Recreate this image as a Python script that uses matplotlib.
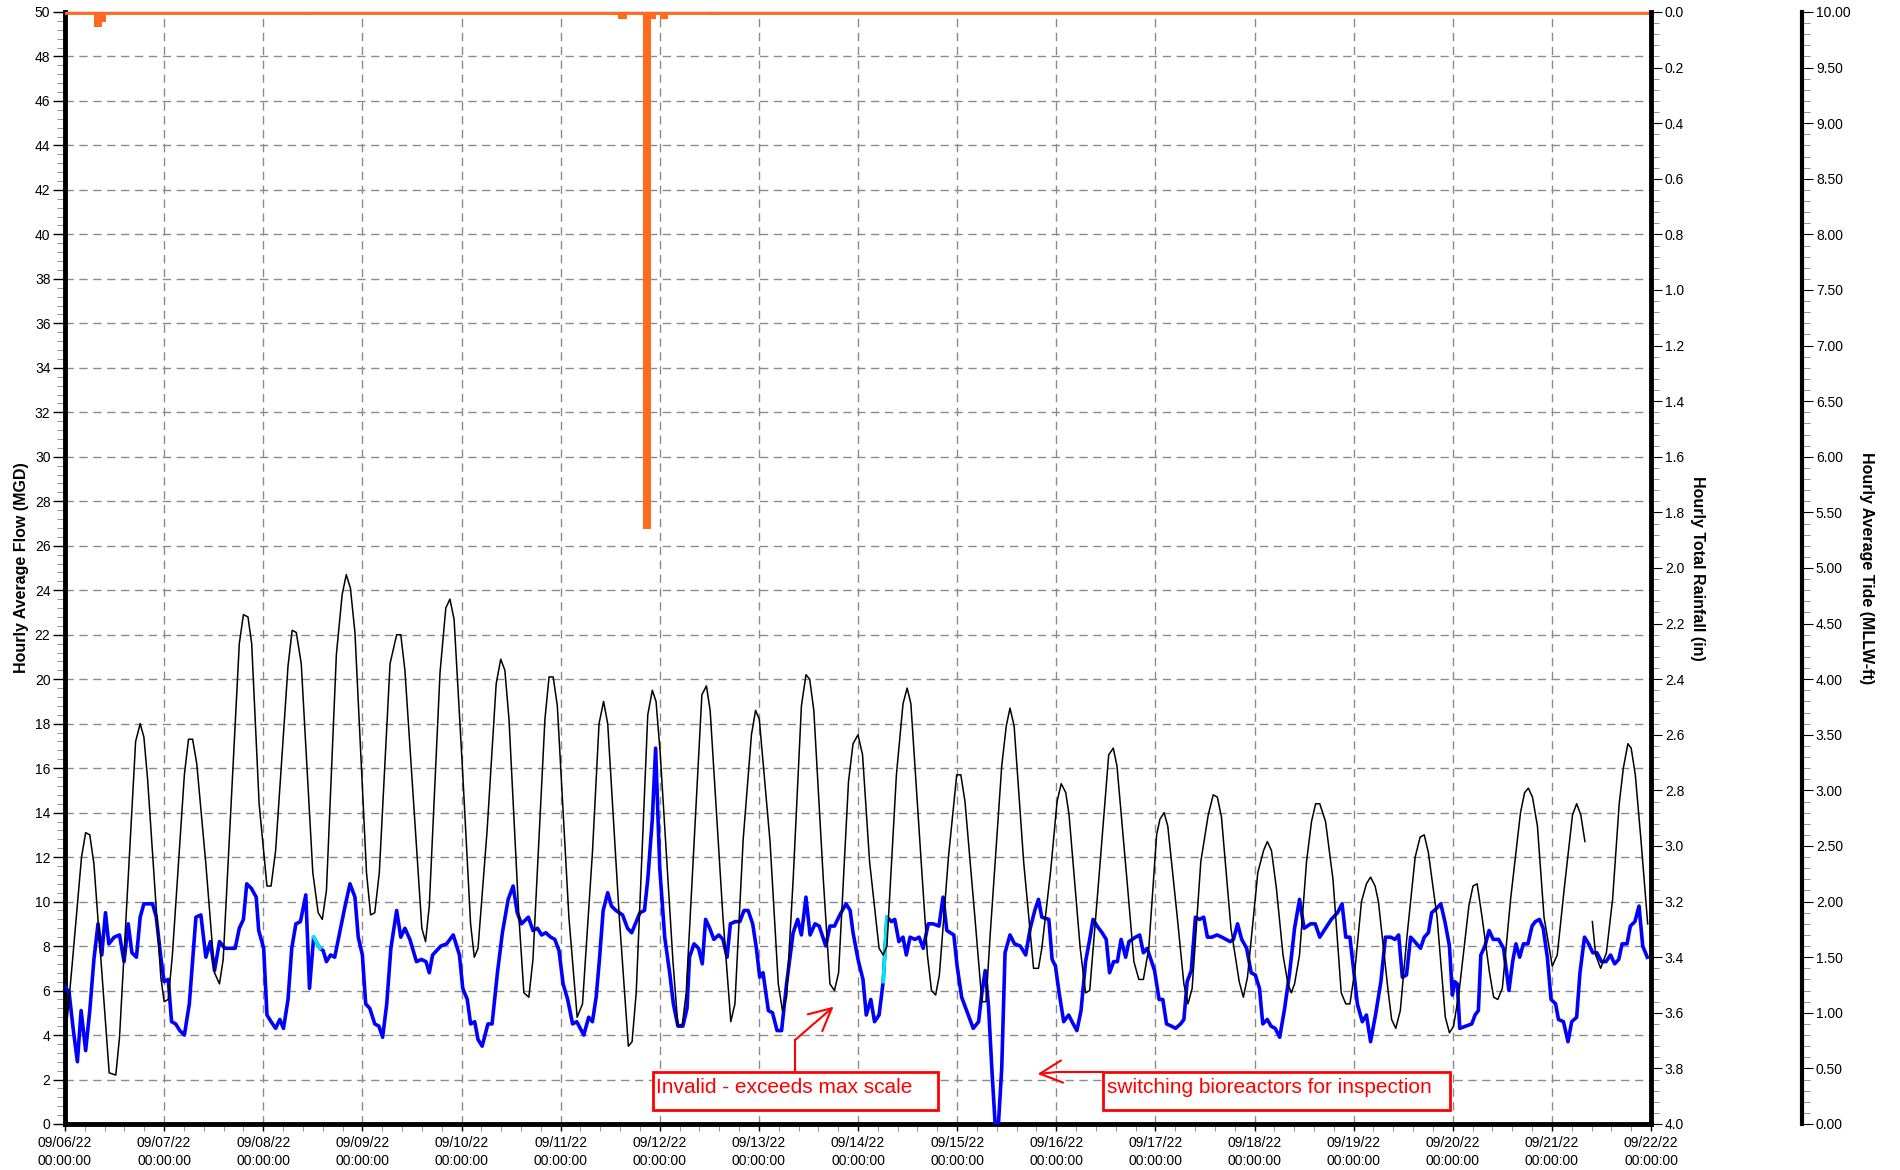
import numpy as np
import matplotlib.pyplot as plt
import matplotlib.dates as mdates
from matplotlib.patches import Rectangle
from matplotlib.ticker import MultipleLocator, FormatStrFormatter

plt.rcParams['font.family'] = ['Liberation Sans', 'DejaVu Sans']

# hours since 09/06/22 00:00
flow_hours = [
    0, 1, 1.9, 3, 3.9, 5, 6, 7, 8, 8.9, 9.8, 10.6, 11.9, 13.2, 14.3, 15.3, 16.2, 17.3, 18.2, 19.1,
    20.2, 21.2, 22.1, 23.2, 24, 25, 25.8, 26.8, 27.8, 28.9, 30.1, 31.7, 32.9, 34.1, 35.2, 36.2, 37.4,
    38.7, 40, 41.2, 42.2, 43.2, 44, 45.1, 46.3, 46.9, 48.1, 48.9, 49.9, 51, 52, 52.9, 54, 54.9, 55.9,
    57, 58.3, 59.2, 60.2, 61.7, 62.5, 63.3, 64.3, 65.3, 66.5, 67.7, 69, 70.2, 71, 72, 72.8, 73.8, 75,
    76, 76.9, 77.9, 78.9, 80.3, 81.3, 82.3, 83.5, 85.1, 86.3, 87.4, 88.2, 89, 90, 91, 92.4, 94, 95.5,
    96.3, 97.4, 98.2, 99.2, 100, 101, 102.4, 103.4, 104.7, 105.9, 107.3, 108.5, 109.5, 110.5, 112.2,
    113.3, 114.4, 115.4, 116.4, 117.6, 118.6, 119.6, 120.6, 121.7, 122.9, 123.9, 125.6, 126.8, 127.7,
    128.6, 129.4, 130.3, 131.4, 132.3, 133.4, 135, 136.2, 137.2, 138.1, 139.2, 140.3, 141.1, 142.2,
    143, 144, 145.2, 146.4, 147.3, 148.4, 149.6, 150.6, 151.2, 152.3, 153.4, 154.3, 155.1, 156.1,
    157.1, 158.3, 159.3, 160.3, 161.1, 162.3, 163.4, 164.4, 165.4, 166.5, 167.4, 168.2, 169, 170.3,
    171.3, 172.4, 173.5, 174.7, 176.3, 177.4, 178.3, 179.4, 180.4, 181.6, 182.6, 184.2, 185.2, 186.3,
    187.6, 189.1, 190.1, 190.8, 192, 193.2, 194, 195.1, 196, 197.1, 198.1, 199, 200.1, 200.9, 201.9,
    202.9, 203.7, 204.6, 205.8, 206.8, 207.8, 209, 210.2, 211.6, 212.6, 213.5, 215.2, 216, 217.1,
    218.3, 219.9, 221.2, 222, 222.8, 223.6, 224.4, 225.2, 226, 226.8, 227.6, 228.8, 229.9, 231.3,
    232.6, 233.7, 234.8, 235.7, 236.5, 238.2, 239, 239.8, 240.7, 241.8, 243, 244.1, 245, 246, 247.1,
    248.1, 248.9, 249.9, 251.1, 252.1, 252.9, 253.9, 254.8, 255.7, 256.8, 257.6, 259.2, 260.2, 261.1,
    262, 262.9, 263.8, 264.9, 265.8, 266.7, 267.9, 268.9, 270.1, 270.9, 271.7, 272.7, 273.7, 274.7,
    275.7, 276.6, 277.7, 278.9, 280.1, 282.1, 282.9, 283.9, 284.9, 286.1, 287.2, 288.2, 289.2, 290,
    291.1, 292, 293, 294.1, 295.3, 296.5, 297.7, 298.9, 300, 301.6, 302.7, 303.8, 305.2, 306.6, 308.1,
    309.2, 310.1, 311.1, 311.9, 312.9, 314.1, 315.1, 316.1, 317.3, 318.6, 319.7, 321, 322, 322.9,
    323.8, 324.8, 325.8, 326.8, 328.2, 329.1, 330.1, 330.9, 332.1, 333.1, 334.1, 335.2, 335.9, 336.5,
    337.1, 337.7, 340.6, 341.4, 342.2, 342.8, 343.8, 344.8, 345.8, 347.1, 348.3, 349.6, 350.5, 351.3,
    352.2, 353.1, 354.2, 355.2, 356, 357, 357.9, 358.9, 359.8, 360.9, 361.6, 362.8, 363.9, 364.8, 366,
    366.8, 367.9, 368.9, 369.9, 370.9, 372, 373.1, 374.2, 375.2, 376.2, 377, 378.2, 379, 380.1, 381.1,
    382, 383.1,
]
flow_mgd = [
    6.2, 5.9, 4.4, 2.8, 5.1, 3.3, 5.1, 7.4, 9.0, 7.6, 9.5, 8.1, 8.4, 8.5, 7.3, 9.0, 7.7, 7.5, 9.3, 9.9,
    9.9, 9.9, 9.3, 7.5, 6.4, 6.5, 4.6, 4.5, 4.2, 4.0, 5.4, 9.3, 9.4, 7.5, 8.2, 6.9, 8.2,
    7.9, 7.9, 7.9, 8.8, 9.2, 10.8, 10.6, 10.2, 8.7, 7.9, 4.9, 4.6, 4.3, 4.7, 4.3, 5.6, 7.9, 9.0,
    9.1, 10.3, 6.1, 8.4, 7.9, 7.8, 7.3, 7.6, 7.5, 8.6, 9.7, 10.8, 10.2, 8.4, 7.6, 5.4, 5.2, 4.5,
    4.4, 3.9, 5.4, 7.9, 9.6, 8.4, 8.8, 8.3, 7.3, 7.4, 7.3, 6.8, 7.6, 7.8, 8.0, 8.1, 8.5, 7.6,
    6.1, 5.6, 4.5, 4.6, 3.8, 3.5, 4.5, 4.5, 6.8, 8.6, 10.1, 10.7, 9.5, 9.0, 9.3,
    8.7, 8.8, 8.5, 8.6, 8.4, 8.3, 7.8, 6.3, 5.6, 4.5, 4.6, 4.0, 4.8, 4.6,
    5.7, 7.4, 9.6, 10.4, 9.8, 9.6, 9.4, 8.8, 8.6, 9.0, 9.5, 9.6, 11.0, 13.7,
    16.9, 11.5, 8.4, 6.8, 5.4, 4.4, 4.4, 5.2, 7.5, 8.1, 7.9, 7.2, 9.2, 8.8,
    8.3, 8.5, 8.3, 7.5, 9.0, 9.1, 9.1, 9.6, 9.6, 9.0, 7.9, 6.6, 6.8, 5.1,
    5.0, 4.2, 4.2, 6.3, 8.6, 9.2, 8.5, 10.2, 8.5, 9.0, 8.9, 8.0, 8.9, 8.9,
    9.4, 9.9, 9.6, 8.6, 7.4, 6.5, 4.9, 5.6, 4.6, 4.9, 6.4, 9.3, 9.1, 9.2, 8.2,
    8.4, 7.6, 8.4, 8.3, 8.4, 7.9, 9.0, 9.0, 8.9, 10.2, 8.7, 8.5, 7.1, 5.7,
    5.1, 4.3, 4.6, 5.9, 6.9, 5.3, 2.5, 0.0, 0.0, 2.5, 7.7, 8.5, 8.1, 8.0,
    7.6, 8.8, 9.6, 10.1, 9.3, 9.2, 7.4, 7.1, 5.9, 4.6, 4.9, 4.5, 4.2, 5.1, 7.3,
    8.3, 9.2, 8.9, 8.6, 8.3, 6.8, 7.3, 7.3, 8.3, 7.5, 8.2, 8.4, 8.5, 7.7,
    7.9, 7.4, 6.9, 5.6, 5.6, 4.5, 4.4, 4.3, 4.5, 4.7, 6.4, 6.9, 9.3, 9.2,
    9.3, 8.4, 8.4, 8.5, 8.4, 8.2, 8.3, 9.0, 8.3, 7.9, 6.8, 6.7, 6.1, 4.5,
    4.7, 4.4, 4.3, 3.9, 5.2, 6.8, 8.8, 10.1, 8.8, 9.0, 9.0, 8.4, 8.8, 9.2, 9.5,
    9.9, 8.4, 8.4, 7.1, 5.4, 4.6, 4.9, 3.7, 4.9, 6.4, 8.4, 8.4, 8.3, 8.5,
    6.6, 6.7, 8.4, 8.2, 7.9, 8.4, 8.6, 9.5, 9.7, 9.9, 9.1, 8.0, 5.8, 6.4,
    6.3, 4.3, 4.5, 4.9, 5.1, 7.6, 8.0, 8.7, 8.3, 8.3, 7.9, 6.0, 7.3, 8.1,
    7.5, 8.1, 8.1, 8.9, 9.1, 9.2, 8.8, 7.5, 5.6, 5.4, 4.7, 4.6, 3.7, 4.6, 4.8,
    6.8, 8.4, 8.1, 7.7, 7.7, 7.3, 7.3, 7.6, 7.2, 7.4, 8.1, 8.1, 8.9, 9.1, 9.8,
    8.0, 7.5,
]
# stretches of flow flagged as estimated (drawn cyan)
flow_flagged = [(60.2, 61.7), (198.1, 199.0)]

# tide in ft MLLW; nan = missing reading
tide_hours = [
    0, 1.7, 4, 5, 6, 7, 10.7, 12.3, 13.2, 17.1, 18.2, 19.1, 20, 23.2, 24, 25, 26, 28.9, 29.9, 30.9,
    31.9, 34.1, 36.2, 37.4, 38.3, 42.2, 43.2, 44.3, 45.2, 47, 48.9, 49.9, 51, 54, 55, 56, 57.2, 60,
    61.3, 62.3, 63.3, 65.7, 67.1, 68.1, 69.1, 70.2, 73, 74, 75, 76.1, 78.7, 80.3, 81.3, 82.3, 86.4,
    87.3, 88.2, 90.8, 92.2, 93.2, 94.2, 96.2, 98.2, 99.1, 100, 102.2, 104.4, 105.5, 106.5, 107.5,
    109.9, 111.1, 112.3, 113.3, 116.2, 117.2, 118.2, 119.2, 122, 124, 125.3, 127.7, 129.3, 130.4,
    131.4, 134.2, 136.4, 137.3, 138.3, 141.1, 142.2, 143.1, 144.1, 147.2, 148.4, 149.5, 150.4, 152.4,
    154.2, 155.3, 156.2, 159.3, 161.2, 162.2, 164.2, 166.2, 167.2, 168.1, 170.7, 172.7, 173.7, 174.7,
    176.3, 178.3, 179.4, 180.3, 181.3, 183.6, 185.2, 186.3, 187.3, 189.7, 190.8, 192, 193.1, 194.8,
    197.1, 198.1, 199, 201.3, 202.9, 203.9, 204.8, 207.4, 208.8, 209.8, 210.8, 211.7, 213.9, 215.9,
    216.9, 217.9, 220.3, 222, 223, 224, 226.8, 227.9, 228.8, 229.8, 232.1, 234.5, 235.7, 236.5, 238.6,
    240.2, 241.2, 242.3, 243.1, 245.8, 247.1, 248.1, 250.3, 252.7, 253.8, 254.7, 257.2, 258.8, 260,
    261.1, 262.4, 264.3, 265.1, 266.1, 267, 269.3, 270.9, 271.9, 272.9, 275, 276.8, 278, 279, 280,
    282.3, 284.3, 285.3, 286.3, 288.8, 290.2, 291.1, 292.1, 293.3, 294.9, 296.1, 296.9, 297.7, 298.9,
    300.6, 301.8, 302.8, 303.8, 305.2, 307, 309, 310.1, 311.1, 312.3, 313.9, 315.1, 316.1, 317.2, 318,
    320.4, 321.2, 322.2, 323.3, 324.9, 326.9, 328.1, 329.1, 330.1, 332.2, 334.2, 335.2, 336.2, 337.5,
    339.9, 340.9, 341.9, 343.1, 344.9, 345.9, 346.9, 348, 350, 352.4, 353.4, 354.3, 355.3, 356.5,
    358.1, 360.1, 361.3, 363, 365, 366, 367, 368, 369, 369.8, 370.6, 371.8, 373.2, 374.7, 376.3,
    377.3, 378.4, 379.2, 380.2, 381.6, 383.2,
]
tide_ft = [
    0.72, 1.42, 2.40, 2.62, 2.60, 2.34, 0.46, 0.44, 0.78, 3.44, 3.60, 3.48, 3.10, 1.32, 1.10, 1.12, 1.52, 3.14, 3.46, 3.46,
    3.24, 2.34, 1.36, 1.26, 1.48, 4.32, 4.58, 4.56, 4.32, 2.88, 2.14, 2.14, 2.46, 4.12, 4.44, 4.42, 4.14, 2.26,
    1.90, 1.84, 2.10, 4.22, 4.76, 4.94, 4.82, 4.42, 2.26, 1.88, 1.90, 2.26, 4.14, 4.40, 4.40, 4.08, 1.76,
    1.64, 1.96, 4.06, 4.64, 4.72, 4.54, 3.22, 1.80, 1.50, 1.58, 2.64, 3.96, 4.18, 4.08, 3.64,
    1.86, 1.18, 1.14, 1.48, 3.64, 4.02, 4.02, 3.76, 1.86, 0.96, 1.08, 2.44, 3.60, 3.80,
    3.60, 1.86, 0.70, 0.74, 1.18, 3.68, 3.90, 3.80, 3.34, 1.46, 0.88, 0.90, 1.18, 2.60,
    3.86, 3.94, 3.72, 1.86, 0.92, 1.08, 2.56, 3.50, 3.72, 3.64, 2.54, 1.26, 1.02, 1.14,
    2.20, 3.76, 4.04, 4.00, 3.72, 2.20, 1.26, 1.20, 1.36, 3.08, 3.42, 3.50, 3.32, 2.36,
    1.58, 1.52, 1.60, 3.14, 3.78, 3.92, 3.78, 2.30, 1.52, 1.20, 1.16, 1.34, 2.40, 3.14,
    3.14, 2.90, 1.86, 1.10, 1.10, 1.70, 3.22, 3.58, 3.74, 3.58, 2.36, 1.40, 1.40, 1.58, 2.26,
    2.90, 3.06, 2.98, 2.78, 1.58, 1.18, 1.20, 2.20, 3.32, 3.38, 3.22, 2.16, 1.46, 1.30,
    1.30, 1.58, 2.60, 2.74, 2.80, 2.68, 1.86, 1.26, 1.08, 1.22, 2.36, 2.78, 2.96, 2.94, 2.76,
    1.76, 1.28, 1.14, 1.32, 2.26, 2.46, 2.54, 2.46, 2.12, 1.52, 1.26, 1.18, 1.26, 1.52,
    2.36, 2.72, 2.88, 2.88, 2.72, 2.20, 1.18, 1.08, 1.08, 1.38, 2.00, 2.16, 2.22, 2.14, 2.00,
    1.18, 0.94, 0.86, 1.02, 1.68, 2.40, 2.58, 2.60, 2.44, 1.86, 0.96, 0.82, 0.88, 1.18,
    1.96, 2.14, 2.16, 1.86, 1.36, 1.14, 1.12, 1.22, 2.02, 2.80, 2.98, 3.02, 2.94, 2.68,
    1.86, 1.42, 1.52, 2.12, 2.78, 2.88, 2.78, 2.54, np.nan, 1.82, 1.52, 1.40, 1.54, 2.02, 2.88,
    3.20, 3.42, 3.38, 3.14, 2.54, 1.80,
]

rain_hours = [7, 8, 9, 58, 59, 132, 133, 134, 135, 140, 141, 142, 143, 144, 145, 156, 157]
rain_in = [0.055, 0.055, 0.035, 0.012, 0.012, 0.01, 0.01, 0.025, 0.025, 1.86, 1.86,
           0.025, 0.012, 0.025, 0.025, 0.01, 0.01]

start = np.datetime64('2022-09-06T00:00:00')


def to_time(hours):
    secs = np.round(np.asarray(hours, dtype=float) * 3600).astype(np.int64)
    return start + secs.astype('timedelta64[s]')


flow_t = to_time(flow_hours)
flow_v = np.array(flow_mgd)
fh = np.array(flow_hours)

fig = plt.figure(figsize=(19, 11.7), dpi=100)
ax = fig.add_axes([0.03421, 0.03932, 0.83474, 0.95043])
ax_rain = ax.twinx()
ax_tide = ax.twinx()

# flow
ax.plot(flow_t, flow_v, color='#0000FF', lw=2.6, zorder=3)
for a, b in flow_flagged:
    m = (fh >= a) & (fh <= b)
    ax.plot(flow_t[m], flow_v[m], color='#00E5F0', lw=2.6, zorder=4)

ax.set_xlim(start, start + np.timedelta64(16, 'D'))
ax.set_ylim(0, 50)
ax.yaxis.set_major_locator(MultipleLocator(2))
ax.yaxis.set_minor_locator(MultipleLocator(0.4))
ax.yaxis.set_major_formatter(FormatStrFormatter('%d'))
ax.xaxis.set_major_locator(mdates.DayLocator())
ax.xaxis.set_minor_locator(MultipleLocator(0.2))
ax.xaxis.set_major_formatter(mdates.DateFormatter('%m/%d/%y\n%H:%M:%S'))
ax.grid(True, which='major', color='#8c8c8c', linestyle=(0, (6, 4)), linewidth=1)
ax.tick_params(axis='both', which='major', labelsize=10, colors='black', width=1)
ax.tick_params(axis='y', which='major', length=8.5, pad=2)
ax.tick_params(axis='y', which='minor', length=6, color='#808080')
ax.tick_params(axis='x', which='major', length=5, pad=4)
ax.tick_params(axis='x', which='minor', length=5, color='#808080')
for lab in ax.get_xticklabels():
    lab.set_linespacing(1.3)
ax.set_ylabel('Hourly Average Flow (MGD)', fontsize=11.5, fontweight='bold', va='center')
ax.yaxis.set_label_coords(-0.0277, 0.5)
ax.spines['left'].set_linewidth(3.5)
ax.spines['bottom'].set_linewidth(3.5)
ax.spines['top'].set_linewidth(1)
ax.spines['top'].set_color('#505050')
ax.spines['right'].set_visible(False)

# rainfall, hanging from the top
ax_rain.bar(to_time(rain_hours), rain_in, width=1 / 24, align='edge', color='#FF6A1F', zorder=2)
ax_rain.axhline(0, color='#FF6A1F', lw=3.5)
ax_rain.set_ylim(4, 0)
ax_rain.yaxis.set_major_locator(MultipleLocator(0.2))
ax_rain.yaxis.set_minor_locator(MultipleLocator(0.04))
ax_rain.yaxis.set_major_formatter(FormatStrFormatter('%.1f'))
ax_rain.tick_params(axis='y', which='major', labelsize=10, length=8, pad=2)
ax_rain.tick_params(axis='y', which='minor', length=6, color='#808080')
ax_rain.set_ylabel('Hourly Total Rainfall (in)', fontsize=11.5, fontweight='bold',
                   rotation=270, va='center')
ax_rain.yaxis.set_label_coords(1.0296, 0.5)
for s in ['left', 'top', 'bottom']:
    ax_rain.spines[s].set_visible(False)
ax_rain.spines['right'].set_linewidth(3.5)

# tide
ax_tide.plot(to_time(tide_hours), tide_ft, color='black', lw=1.1, zorder=3)
ax_tide.set_ylim(0, 10)
ax_tide.spines['right'].set_position(('axes', 1.0952))
ax_tide.spines['right'].set_linewidth(3)
for s in ['left', 'top', 'bottom']:
    ax_tide.spines[s].set_visible(False)
ax_tide.yaxis.set_major_locator(MultipleLocator(0.5))
ax_tide.yaxis.set_minor_locator(MultipleLocator(0.1))
ax_tide.yaxis.set_major_formatter(FormatStrFormatter('%.2f'))
ax_tide.tick_params(axis='y', which='major', labelsize=10, length=8, pad=2)
ax_tide.tick_params(axis='y', which='minor', length=6, color='#808080')
ax_tide.set_ylabel('Hourly Average Tide (MLLW-ft)', fontsize=11.5, fontweight='bold',
                   rotation=270, va='center')
ax_tide.yaxis.set_label_coords(1.136, 0.5)

# annotations
tr = ax_tide.transAxes
red = '#FF0000'
ax_tide.add_patch(Rectangle((0.3707, 0.0126), 0.1797, 0.0342, transform=tr, facecolor='white',
                            edgecolor=red, lw=2, clip_on=False, zorder=5))
ax_tide.text(0.3726, 0.0279, 'Invalid - exceeds max scale', color=red, fontsize=15,
             ha='left', va='baseline', transform=tr, zorder=6)
ax_tide.plot([0.4603, 0.4603], [0.0468, 0.0755], color=red, lw=1.5, transform=tr,
             clip_on=False, zorder=6)
ax_tide.annotate('', xy=(0.4846, 0.1055), xytext=(0.4603, 0.0755), xycoords='axes fraction',
                 arrowprops=dict(arrowstyle='->,head_length=0.8,head_width=0.4', color=red, lw=1.5,
                                 mutation_scale=20, shrinkA=0, shrinkB=0), zorder=6)

ax_tide.add_patch(Rectangle((0.6545, 0.0126), 0.2188, 0.0342, transform=tr, facecolor='white',
                            edgecolor=red, lw=2, clip_on=False, zorder=5))
ax_tide.text(0.657, 0.0279, 'switching bioreactors for inspection', color=red, fontsize=15,
             ha='left', va='baseline', transform=tr, zorder=6)
ax_tide.plot([0.6545, 0.6261], [0.0468, 0.0468], color=red, lw=1.5, transform=tr,
             clip_on=False, zorder=6)
ax_tide.annotate('', xy=(0.6132, 0.045), xytext=(0.6261, 0.0468), xycoords='axes fraction',
                 arrowprops=dict(arrowstyle='->,head_length=0.8,head_width=0.4', color=red, lw=1.5,
                                 mutation_scale=20, shrinkA=0, shrinkB=0), zorder=6)

fig.savefig('out.png', dpi=100)
